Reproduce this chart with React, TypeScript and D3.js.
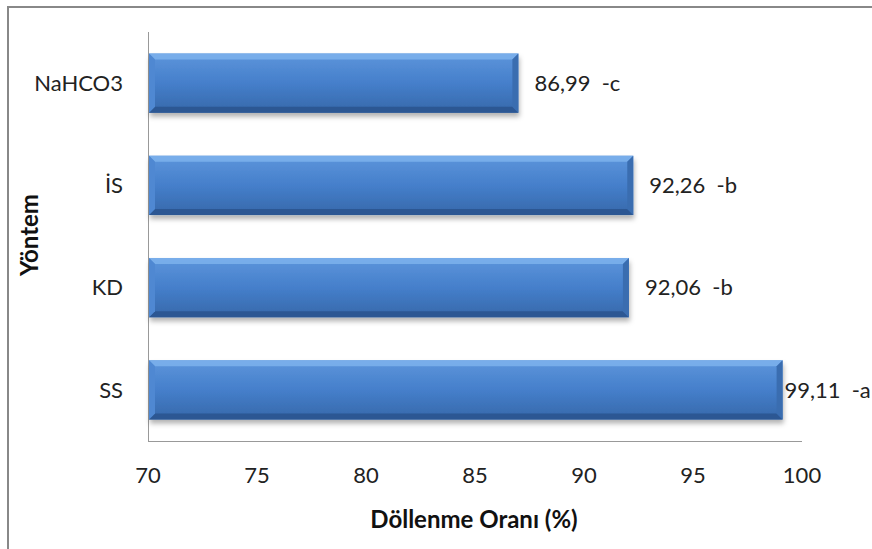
import React, { useEffect, useRef } from 'react';
import * as d3 from 'd3';

const categories = ['NaHCO3', 'İS', 'KD', 'SS'];
const values = [86.99, 92.26, 92.06, 99.11];
const letters = ['c', 'b', 'b', 'a'];
const xTicks = [70, 75, 80, 85, 90, 95, 100];

const W = 872;
const H = 549;
const FONT = 'Lato, "Open Sans", sans-serif';

const App = () => {
  const ref = useRef<SVGSVGElement>(null);

  useEffect(() => {
    const svg = d3.select(ref.current);
    svg.selectAll('*').remove();

    const left = 148, right = 802, top = 32, bottom = 441;

    const x = d3.scaleLinear().domain([70, 100]).range([left, right]);
    const y = d3.scaleBand().domain(categories).range([top, bottom]).paddingInner(0.42).paddingOuter(0.21);

    const defs = svg.append('defs');
    const grad = defs.append('linearGradient').attr('id', 'barGrad').attr('x1', 0).attr('y1', 0).attr('x2', 0).attr('y2', 1);
    grad.append('stop').attr('offset', '0%').attr('stop-color', '#5d95db');
    grad.append('stop').attr('offset', '50%').attr('stop-color', '#457fcb');
    grad.append('stop').attr('offset', '100%').attr('stop-color', '#3668aa');

    const shadow = defs.append('filter').attr('id', 'shadow').attr('x', '-5%').attr('y', '-20%').attr('width', '110%').attr('height', '160%');
    shadow.append('feDropShadow').attr('dx', 1).attr('dy', 4).attr('stdDeviation', 2.5).attr('flood-color', '#000').attr('flood-opacity', 0.3);

    // outer border
    svg.append('line').attr('x1', 8).attr('x2', W).attr('y1', 7).attr('y2', 7).attr('stroke', '#888').attr('stroke-width', 2);
    svg.append('line').attr('x1', 8).attr('x2', 8).attr('y1', 6).attr('y2', H).attr('stroke', '#888').attr('stroke-width', 2);

    // axes lines
    svg.append('line').attr('x1', left + 0.5).attr('x2', left + 0.5).attr('y1', top).attr('y2', bottom).attr('stroke', '#999');
    svg.append('line').attr('x1', left).attr('x2', right).attr('y1', bottom + 0.5).attr('y2', bottom + 0.5).attr('stroke', '#999');

    const bw = y.bandwidth();
    const bev = 6;

    categories.forEach((c, i) => {
      const y0 = y(c)!;
      const x0 = x(70) + 1;
      const x1 = x(values[i]);
      const g = svg.append('g');
      g.append('rect').attr('x', x0).attr('y', y0).attr('width', x1 - x0).attr('height', bw)
        .attr('fill', 'url(#barGrad)').attr('filter', 'url(#shadow)');
      // top bevel
      g.append('polygon')
        .attr('points', `${x0},${y0} ${x1},${y0} ${x1 - bev},${y0 + bev} ${x0 + bev},${y0 + bev}`)
        .attr('fill', '#7db1ec').attr('opacity', 0.85);
      // bottom bevel
      g.append('polygon')
        .attr('points', `${x0},${y0 + bw} ${x1},${y0 + bw} ${x1 - bev},${y0 + bw - bev} ${x0 + bev},${y0 + bw - bev}`)
        .attr('fill', '#2b5590').attr('opacity', 0.9);
      // left bevel
      g.append('polygon')
        .attr('points', `${x0},${y0} ${x0 + bev},${y0 + bev} ${x0 + bev},${y0 + bw - bev} ${x0},${y0 + bw}`)
        .attr('fill', '#4f88d2');
      // right bevel
      g.append('polygon')
        .attr('points', `${x1},${y0} ${x1 - bev},${y0 + bev} ${x1 - bev},${y0 + bw - bev} ${x1},${y0 + bw}`)
        .attr('fill', '#3a6db0');

      // label pushed back toward the bar when near the right edge
      svg.append('text').attr('x', Math.min(x1 + 16, x(99.1) + 2)).attr('y', y0 + bw / 2).attr('dy', '0.35em')
        .attr('font-family', FONT).attr('font-size', 22).attr('fill', '#222')
        .text(`${d3.format('.2f')(values[i]).replace('.', ',')}  -${letters[i]}`)
        .attr('xml:space', 'preserve');

      svg.append('text').attr('x', 123).attr('y', y0 + bw / 2).attr('dy', '0.35em')
        .attr('text-anchor', 'end').attr('font-family', FONT).attr('font-size', 22).attr('fill', '#222')
        .text(c);
    });

    xTicks.forEach(t => {
      svg.append('text').attr('x', x(t)).attr('y', 475).attr('dy', '0.35em')
        .attr('text-anchor', 'middle').attr('font-family', FONT).attr('font-size', 22).attr('fill', '#222')
        .text(t);
    });

    svg.append('text').attr('x', 474).attr('y', 520).attr('dy', '0.35em')
      .attr('text-anchor', 'middle').attr('font-family', FONT).attr('font-size', 24).attr('font-weight', 'bold').attr('fill', '#111')
      .text('Döllenme Oranı (%)');

    svg.append('text').attr('transform', 'translate(30,235) rotate(-90)').attr('dy', '0.35em')
      .attr('text-anchor', 'middle').attr('font-family', FONT).attr('font-size', 24).attr('font-weight', 'bold').attr('fill', '#111')
      .text('Yöntem');
  }, []);

  return <svg ref={ref} width={W} height={H} style={{ position: 'absolute', left: 0, top: 0 }}></svg>;
};

export default App;
